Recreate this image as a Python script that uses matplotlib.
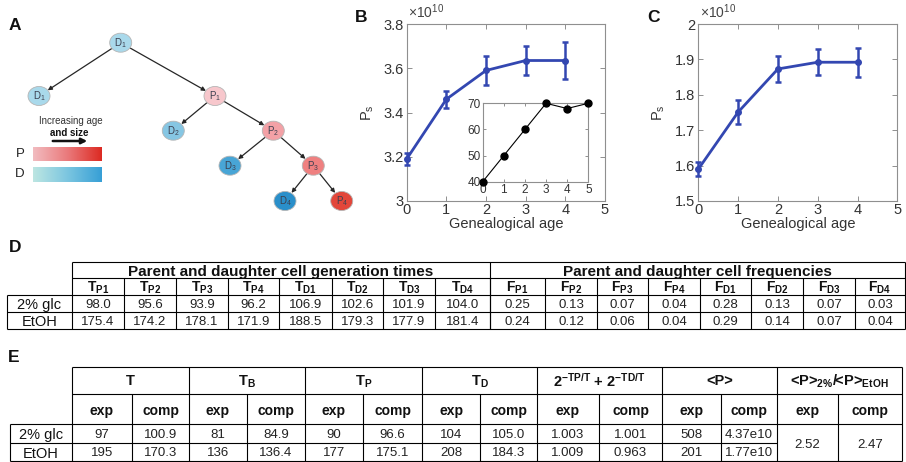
import numpy as np
import matplotlib
matplotlib.use("Agg")
import matplotlib.pyplot as plt
from matplotlib.patches import Ellipse, FancyArrowPatch
from matplotlib.colors import LinearSegmentedColormap
from matplotlib.ticker import FuncFormatter

plt.rcParams['font.family'] = ['Liberation Sans', 'DejaVu Sans']
plt.rcParams['mathtext.fontset'] = 'custom'
plt.rcParams['mathtext.rm'] = 'Liberation Sans'
plt.rcParams['mathtext.it'] = 'Liberation Sans:italic'
plt.rcParams['mathtext.bf'] = 'Liberation Sans:bold'

W, H = 906, 462

# --- panel B / C data (P_s in units of 1e10) ---
ages = [0, 1, 2, 3, 4]
ps_glc = [3.19, 3.46, 3.59, 3.635, 3.635]
ps_glc_err = [0.026, 0.038, 0.064, 0.066, 0.082]
ps_etoh = [1.59, 1.751, 1.873, 1.892, 1.892]
ps_etoh_err = [0.019, 0.033, 0.038, 0.036, 0.041]
inset_x = [0, 1, 2, 3, 4, 5]
inset_y = [40, 50, 60, 70, 68, 70]

# --- panel A tree ---
node_names = ['D$_1$', 'D$_1$', 'P$_1$', 'D$_2$', 'P$_2$', 'D$_3$', 'P$_3$', 'D$_4$', 'P$_4$']
node_colors = ['#a9d9eb', '#a9d9eb', '#f7c7cc', '#86c6e3', '#f3a1a6',
               '#48a5d6', '#ef8080', '#2a8fca', '#e2463a']
tree_edges = [(0, 1), (0, 2), (2, 3), (2, 4), (4, 5), (4, 6), (6, 7), (6, 8)]

# --- panel D data ---
conditions = ['2% glc', 'EtOH']
d_time_cols = ['P1', 'P2', 'P3', 'P4', 'D1', 'D2', 'D3', 'D4']
gen_glc = ['98.0', '95.6', '93.9', '96.2', '106.9', '102.6', '101.9', '104.0']
gen_etoh = ['175.4', '174.2', '178.1', '171.9', '188.5', '179.3', '177.9', '181.4']
freq_glc = ['0.25', '0.13', '0.07', '0.04', '0.28', '0.13', '0.07', '0.03']
freq_etoh = ['0.24', '0.12', '0.06', '0.04', '0.29', '0.14', '0.07', '0.04']

# --- panel E data ---
e_groups = ['T', 'T$_{\\mathbf{B}}$', 'T$_{\\mathbf{P}}$', 'T$_{\\mathbf{D}}$',
            '2$^{\\mathbf{-TP/T}}$ + 2$^{\\mathbf{-TD/T}}$', '<P>',
            '<P>$_{\\mathbf{2\\%}}$/<P>$_{\\mathbf{EtOH}}$']
e_glc_exp = ['97', '81', '90', '104', '1.003', '508']
e_glc_comp = ['100.9', '84.9', '96.6', '105.0', '1.001', '4.37e10']
e_etoh_exp = ['195', '136', '177', '208', '1.009', '201']
e_etoh_comp = ['170.3', '136.4', '175.1', '184.3', '0.963', '1.77e10']
ratio_exp = '2.52'
ratio_comp = '2.47'

fig = plt.figure(figsize=(W / 100, H / 100), dpi=100)


def px_axes(x0, y0, x1, y1):
    return fig.add_axes([x0 / W, 1 - y1 / H, (x1 - x0) / W, (y1 - y0) / H])


# overlay in pixel coords for tables and labels
ov = px_axes(0, 0, W, H)
ov.set_xlim(0, W)
ov.set_ylim(H, 0)
ov.axis('off')

LW = 0.8
def hline(y, x0, x1):
    ov.plot([x0, x1], [y, y], color='k', lw=LW, solid_capstyle='butt')

def vline(x, y0, y1):
    ov.plot([x, x], [y0, y1], color='k', lw=LW, solid_capstyle='butt')

def cell(x, y, s, fs=9.5, bold=False, color='#222'):
    ov.text(x, y, s, ha='center', va='center_baseline', fontsize=fs,
            fontweight='bold' if bold else 'normal', color=color)

# ---------------- panel A ----------------
axA = px_axes(0, 0, 360, 230)
axA.set_xlim(0, 360)
axA.set_ylim(230, 0)
axA.axis('off')
node_pos = [(120.7, 42.7), (39, 96), (215, 96), (173.3, 130.7), (273.3, 130.7),
            (230, 165.7), (313.3, 165.7), (285, 201), (341.7, 201)]
for a, b in tree_edges:
    axA.annotate('', xy=node_pos[b], xytext=node_pos[a],
                 arrowprops=dict(arrowstyle='-|>', color='#262626', lw=0.9,
                                 shrinkA=7, shrinkB=7.5, mutation_scale=6))
for (x, y), name, c in zip(node_pos, node_names, node_colors):
    axA.add_patch(Ellipse((x, y), 22, 19, facecolor=c, edgecolor='#b5b5b5', lw=0.6, zorder=3))
    axA.text(x, y, name, ha='center', va='center', fontsize=7, color='#3c4050', zorder=4)

grad = np.linspace(0, 1, 256).reshape(1, -1)
cmap_p = LinearSegmentedColormap.from_list('p', ['#f2bcc0', '#ea7a7c', '#dc2a22'])
cmap_d = LinearSegmentedColormap.from_list('d', ['#bde6e2', '#7cc6e0', '#379fd6'])
axA.imshow(grad, cmap=cmap_p, extent=(33, 102, 161, 147), aspect='auto', zorder=2)
axA.imshow(grad, cmap=cmap_d, extent=(33, 102, 182, 167), aspect='auto', zorder=2)
axA.set_xlim(0, 360)
axA.set_ylim(230, 0)
axA.text(20, 154, 'P', ha='center', va='center', fontsize=9.5, color='#222')
axA.text(20, 174, 'D', ha='center', va='center', fontsize=9.5, color='#222')
axA.text(70.5, 121, 'Increasing age', ha='center', va='center', fontsize=7, color='#333')
axA.text(69.5, 133, 'and size', ha='center', va='center', fontsize=7, fontweight='bold', color='#111')
axA.add_patch(FancyArrowPatch((50, 141), (90, 141), arrowstyle='-|>', mutation_scale=8,
                              lw=1.8, color='#111'))


# ---------------- panels B, C ----------------
def matlab_style(ax, fs):
    for s in ax.spines.values():
        s.set_color('#8f8f8f')
        s.set_linewidth(0.8)
    ax.tick_params(direction='in', top=True, right=True, length=3.5, width=0.7,
                   color='#8f8f8f', labelsize=fs, labelcolor='#333333', pad=2)
    ax.tick_params(axis='x', pad=1.5)
    ax.xaxis.set_major_formatter(FuncFormatter(lambda v, p: f'{v:g}'))
    ax.yaxis.set_major_formatter(FuncFormatter(lambda v, p: f'{v:g}'))


blue = '#3347b1'
axB = px_axes(406.7, 24, 605, 201)
axB.errorbar(ages, ps_glc, yerr=ps_glc_err, color=blue, lw=2, marker='o', ms=4,
             capsize=2, elinewidth=1.8, capthick=1.8, clip_on=False, zorder=3)
axB.set_xlim(0, 5)
axB.set_ylim(3, 3.8)
axB.set_xticks([0, 1, 2, 3, 4, 5])
axB.set_yticks([3, 3.2, 3.4, 3.6, 3.8])
matlab_style(axB, 10.5)

axI = px_axes(482.7, 103.3, 588.3, 181.7)
axI.plot(inset_x, inset_y, color='k', lw=0.8, marker='o', ms=5, clip_on=False, zorder=3)
axI.set_xlim(0, 5)
axI.set_ylim(40, 70)
axI.set_xticks([0, 1, 2, 3, 4, 5])
axI.set_yticks([40, 50, 60, 70])
matlab_style(axI, 8.5)
axI.tick_params(length=2.5, pad=1.5)

axC = px_axes(698.3, 24, 897.3, 201)
axC.errorbar(ages, ps_etoh, yerr=ps_etoh_err, color=blue, lw=2, marker='o', ms=4,
             capsize=2, elinewidth=1.8, capthick=1.8, clip_on=False, zorder=3)
axC.set_xlim(0, 5)
axC.set_ylim(1.5, 2.0)
axC.set_xticks([0, 1, 2, 3, 4, 5])
axC.set_yticks([1.5, 1.6, 1.7, 1.8, 1.9, 2.0])
matlab_style(axC, 10.5)

for xl, xc in [(408, 506), (700, 798)]:
    ov.text(xl, 12, r'$\times10^{10}$', ha='left', va='center', fontsize=10, color='#444')
    ov.text(xc, 224, 'Genealogical age', ha='center', va='center', fontsize=10.5, color='#333')
ov.text(368, 113, r'P$_\mathregular{s}$', ha='center', va='center', rotation=90, fontsize=10.5, color='#333')
ov.text(659, 113, r'P$_\mathregular{s}$', ha='center', va='center', rotation=90, fontsize=10.5, color='#333')

# panel letters
for lab, x, y in [('A', 15, 26), ('B', 361, 18), ('C', 653, 18), ('D', 15, 248), ('E', 14, 357)]:
    ov.text(x, y, lab, ha='center', va='center', fontsize=12.5, fontweight='bold', color='#111')

# ---------------- table D ----------------
d_cols = [72, 124, 176, 228, 279, 332, 383, 435, 490, 545, 597, 648, 700, 751, 803, 855, 905]
d_rows = [262, 278, 295, 312, 329]
hline(d_rows[0], d_cols[0], d_cols[-1])
hline(d_rows[1], d_cols[0], d_cols[-1])
for y in d_rows[2:]:
    hline(y, 7, d_cols[-1])
for x in [d_cols[0], d_cols[8], d_cols[-1]]:
    vline(x, d_rows[0], d_rows[-1])
for x in d_cols[1:-1]:
    vline(x, d_rows[1], d_rows[-1])
vline(7, d_rows[2], d_rows[-1])

yc = [(d_rows[i] + d_rows[i + 1]) / 2 for i in range(4)]
cell((d_cols[0] + d_cols[8]) / 2, yc[0] + 0.5, 'Parent and daughter cell generation times', 11, True, '#111')
cell((d_cols[8] + d_cols[-1]) / 2, yc[0] + 0.5, 'Parent and daughter cell frequencies', 11, True, '#111')
for i, sub in enumerate(d_time_cols):
    xc_t = (d_cols[i] + d_cols[i + 1]) / 2
    xc_f = (d_cols[i + 8] + d_cols[i + 9]) / 2
    cell(xc_t, yc[1] - 1, 'T$_{\\mathbf{%s}}$' % sub, 10, True, '#111')
    cell(xc_f, yc[1] - 1, 'F$_{\\mathbf{%s}}$' % sub, 10, True, '#111')
    cell(xc_t, yc[2], gen_glc[i])
    cell(xc_t, yc[3], gen_etoh[i])
    cell(xc_f, yc[2], freq_glc[i])
    cell(xc_f, yc[3], freq_etoh[i])
for cond, y in zip(conditions, yc[2:]):
    cell((7 + d_cols[0]) / 2, y, cond, 10.5, False, '#111')

# ---------------- table E ----------------
e_group_cols = [72, 189, 305, 422, 537, 662, 777, 902]
e_sub_cols = [132, 247, 363, 480, 599, 721, 838]
e_rows = [367, 394, 424, 443, 461]
hline(e_rows[0], e_group_cols[0], e_group_cols[-1])
hline(e_rows[1], e_group_cols[0], e_group_cols[-1])
hline(e_rows[2], 10, e_group_cols[-1])
hline(e_rows[3], 10, e_group_cols[-2])
hline(e_rows[4], 10, e_group_cols[-1])
for x in e_group_cols:
    vline(x, e_rows[0], e_rows[-1])
for x in e_sub_cols:
    vline(x, e_rows[1], e_rows[-1])
vline(10, e_rows[2], e_rows[-1])

ye = [(e_rows[i] + e_rows[i + 1]) / 2 for i in range(4)]
for i, g in enumerate(e_groups):
    x0, x1 = e_group_cols[i], e_group_cols[i + 1]
    xm = e_sub_cols[i]
    cell((x0 + x1) / 2, ye[0] - 1, g, 10.5, True, '#111')
    cell((x0 + xm) / 2, ye[1], 'exp', 10, True, '#111')
    cell((xm + x1) / 2, ye[1], 'comp', 10, True, '#111')
    if i < len(e_glc_exp):
        cell((x0 + xm) / 2, ye[2], e_glc_exp[i])
        cell((xm + x1) / 2, ye[2], e_glc_comp[i])
        cell((x0 + xm) / 2, ye[3], e_etoh_exp[i])
        cell((xm + x1) / 2, ye[3], e_etoh_comp[i])
    else:
        cell((x0 + xm) / 2, e_rows[3], ratio_exp)
        cell((xm + x1) / 2, e_rows[3], ratio_comp)
for cond, y in zip(conditions, ye[2:]):
    cell((10 + e_group_cols[0]) / 2, y, cond, 10.5, False, '#111')

fig.savefig('out.png', dpi=100)
